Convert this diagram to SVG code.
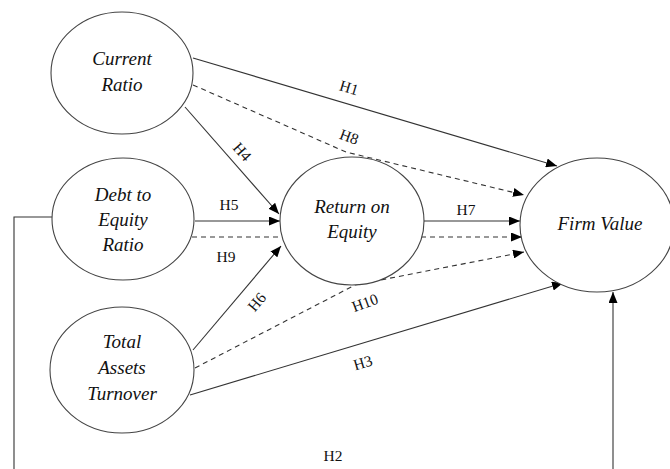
<svg xmlns="http://www.w3.org/2000/svg" width="670" height="469" viewBox="0 0 670 469">
<style>
text{font-family:"Times New Roman",Times,"Liberation Serif","Nimbus Roman","DejaVu Serif",serif}
.node ellipse{fill:#fff;stroke:#444;stroke-width:1.1}
.node text{font-style:italic;font-size:19px;fill:#111;text-anchor:middle}
.edge{fill:none;stroke:#333;stroke-width:1.1}
.dash{stroke-dasharray:5,4}
.lbl{font-size:15.5px;fill:#111;text-anchor:middle}
</style>
<defs>
<marker id="arr" markerUnits="userSpaceOnUse" markerWidth="11" markerHeight="9" refX="11" refY="4.5" orient="auto">
<path d="M0,0 L11,4.5 L0,9 z" fill="#000"/>
</marker>
</defs>
<rect width="670" height="469" fill="#fff"/>
<g id="connectors">
<line class="edge" x1="193" y1="58" x2="557" y2="166" marker-end="url(#arr)"/>
<polyline class="edge dash" points="193,85 346,152 524,195" marker-end="url(#arr)"/>
<line class="edge" x1="185" y1="107" x2="279" y2="214" marker-end="url(#arr)"/>
<line class="edge" x1="195" y1="221" x2="280" y2="221" marker-end="url(#arr)"/>
<line class="edge dash" x1="192" y1="237" x2="280" y2="237"/>
<line class="edge" x1="193" y1="350" x2="281" y2="246" marker-end="url(#arr)"/>
<line class="edge" x1="424" y1="221" x2="520" y2="221" marker-end="url(#arr)"/>
<line class="edge dash" x1="421" y1="237" x2="522" y2="237" marker-end="url(#arr)"/>
<polyline class="edge dash" points="195,368 355,285 524,252" marker-end="url(#arr)"/>
<line class="edge" x1="190" y1="395" x2="563" y2="283" marker-end="url(#arr)"/>
<polyline class="edge" points="52,217 14,217 14,469"/>
<line class="edge" x1="613" y1="469" x2="613" y2="292" marker-end="url(#arr)"/>
<text class="lbl" x="349" y="93" transform="rotate(16.5 349 88)">H1</text>
<text class="lbl" x="349" y="142" transform="rotate(20 349 137)">H8</text>
<text class="lbl" x="242" y="157" transform="rotate(48.5 242 152)">H4</text>
<text class="lbl" x="229" y="210">H5</text>
<text class="lbl" x="226" y="262">H9</text>
<text class="lbl" x="257" y="307" transform="rotate(-50 257 302)">H6</text>
<text class="lbl" x="466" y="215">H7</text>
<text class="lbl" x="365" y="308" transform="rotate(-20 365 303)">H10</text>
<text class="lbl" x="363" y="368" transform="rotate(-16.6 363 363)">H3</text>
<text class="lbl" x="333" y="461">H2</text>
</g>
<g id="current-ratio" class="node">
<ellipse cx="122" cy="73" rx="71" ry="61"/>
<text x="122" y="65">Current</text>
<text x="122" y="91">Ratio</text>
</g>
<g id="debt-to-equity" class="node">
<ellipse cx="123" cy="219" rx="71" ry="61"/>
<text x="123" y="201">Debt to</text>
<text x="123" y="226">Equity</text>
<text x="123" y="251">Ratio</text>
</g>
<g id="total-assets-turnover" class="node">
<ellipse cx="122" cy="370" rx="72" ry="63"/>
<text x="122" y="348">Total</text>
<text x="122" y="374">Assets</text>
<text x="122" y="400">Turnover</text>
</g>
<g id="return-on-equity" class="node">
<ellipse cx="352" cy="221" rx="72" ry="64"/>
<text x="352" y="213">Return on</text>
<text x="352" y="238">Equity</text>
</g>
<g id="firm-value" class="node">
<ellipse cx="597" cy="225" rx="77" ry="67"/>
<text x="600" y="230">Firm Value</text>
</g>
</svg>
